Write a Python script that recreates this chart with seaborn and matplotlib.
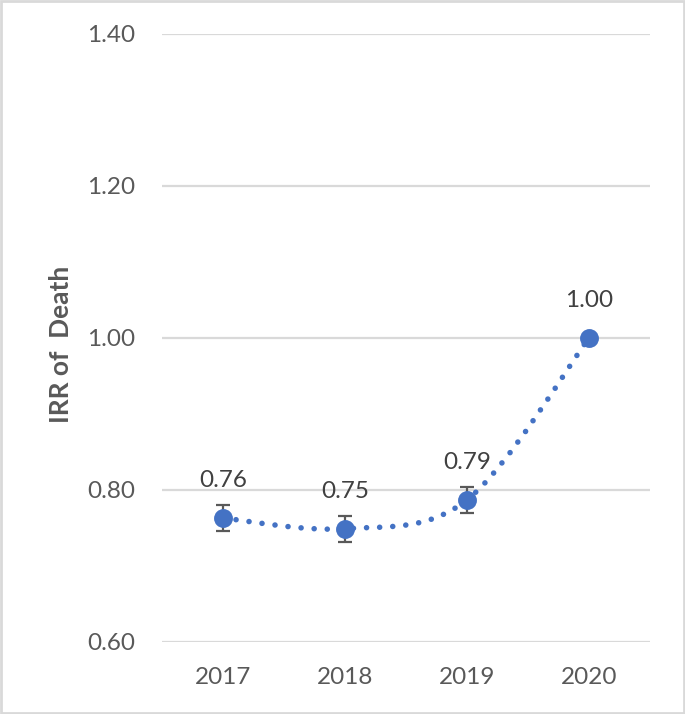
import numpy as np
import matplotlib
matplotlib.use("Agg")
import matplotlib.pyplot as plt
from matplotlib.path import Path
from matplotlib.patches import PathPatch, Rectangle
import seaborn as sns
import pandas as pd

sns.set_theme(style="white")
plt.rcParams['font.family'] = ['Lato', 'DejaVu Sans']

# data
years = ["2017", "2018", "2019", "2020"]
irr = [0.763, 0.749, 0.787, 1.000]
err = [0.017, 0.017, 0.017, 0.0]
labels = ["0.76", "0.75", "0.79", "1.00"]
yticks = [0.60, 0.80, 1.00, 1.20, 1.40]

BLUE = "#4472C4"
GREY = "#595959"
GRID = "#D9D9D9"

df = pd.DataFrame({"x": np.arange(len(years)), "irr": irr, "err": err})

fig = plt.figure(figsize=(6.85, 7.14), dpi=100)
ax = fig.add_axes([162 / 685, 1 - 642 / 714, 488 / 685, 608 / 714])

# gridlines
for t in yticks:
    ax.axhline(t, color=GRID, lw=1.6, zorder=0)

# smoothed line (excel style), bezier through the points
pts = df[["x", "irr"]].to_numpy()
ext = np.vstack([pts[0], pts, pts[-1]])
verts = [tuple(pts[0])]
codes = [Path.MOVETO]
for i in range(1, len(ext) - 2):
    p0, p1, p2, p3 = ext[i - 1], ext[i], ext[i + 1], ext[i + 2]
    c1 = p1 + (p2 - p0) / 6.0
    c2 = p2 - (p3 - p1) / 6.0
    verts += [tuple(c1), tuple(c2), tuple(p2)]
    codes += [Path.CURVE4] * 3
patch = PathPatch(Path(verts, codes), fill=False, edgecolor=BLUE, lw=4.0,
                  linestyle=(0, (0.01, 2.35)), capstyle="round", zorder=2)
ax.add_patch(patch)

# error bars
eb = df[df["err"] > 0]
ax.errorbar(eb["x"], eb["irr"], yerr=eb["err"], fmt="none", ecolor=GREY,
            elinewidth=1.6, capsize=5, capthick=1.6, zorder=3)

sns.scatterplot(data=df, x="x", y="irr", ax=ax, s=185, color=BLUE,
                edgecolor=BLUE, linewidth=0, zorder=4, legend=False)

for xi, yi, lab in zip(df["x"], df["irr"], labels):
    ax.annotate(lab, (xi, yi), xytext=(0, 27), textcoords="offset points",
                ha="center", va="center", fontsize=17.5, color="#404040")

ax.set_xlim(-0.5, len(years) - 0.5)
ax.set_ylim(0.60, 1.40)
ax.set_xticks(df["x"])
ax.set_xticklabels(years)
ax.set_yticks(yticks)
ax.set_yticklabels([f"{t:.2f}" for t in yticks])
ax.tick_params(axis="both", length=0, labelsize=17.5, labelcolor=GREY)
ax.tick_params(axis="y", pad=19)
ax.tick_params(axis="x", pad=18)
ax.set_xlabel("")
ax.set_ylabel("IRR of  Death", fontsize=19, fontweight="bold", color=GREY)
ax.yaxis.set_label_coords(-0.183, 0.49)
sns.despine(ax=ax, left=True, bottom=True)

# outer border
fig.patches.append(Rectangle((0.002, 0.002), 0.996, 0.996, transform=fig.transFigure,
                             fill=False, edgecolor=GRID, lw=2))

fig.savefig("out.png", dpi=100)
